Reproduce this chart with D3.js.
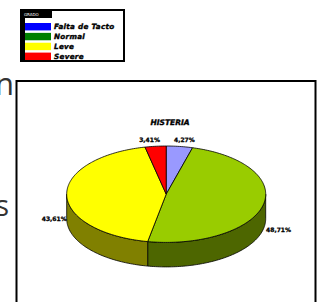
<!DOCTYPE html>
<html>
<head>
<meta charset="utf-8">
<script src="https://cdn.jsdelivr.net/npm/d3@7"></script>
<style>
  body { margin: 0; background: #fff; }
  svg { display: block; }
</style>
</head>
<body>
<div id="chart"></div>
<script>
  // legend entries and pie data (percent)
  var categories = ['Falta de Tacto', 'Normal', 'Leve', 'Severe'];
  var legendColors = ['#0000FF', '#008000', '#FFFF00', '#FF0000'];
  var pieLabels = ['4,27%', '48,71%', '43,61%', '3,41%'];
  var values = [4.27, 48.71, 43.61, 3.41];
  var topColors = ['#9999FF', '#99CC00', '#FFFF00', '#FF0000'];
  var sideColors = ['#5C5C99', '#4D6600', '#808000', '#990000'];
  var title = 'HISTERIA';

  var width = 319, height = 302;

  var svg = d3.select('#chart')
    .append('svg')
    .attr('width', width)
    .attr('height', height);

  // slide text cut off at the left edge (as in the source)
  svg.append('text')
    .attr('x', 14).attr('y', 95)
    .attr('text-anchor', 'end')
    .style('font-family', 'Open Sans')
    .style('font-size', '31px')
    .attr('fill', '#333')
    .text('n');
  svg.append('text')
    .attr('x', 9).attr('y', 216)
    .attr('text-anchor', 'end')
    .style('font-family', 'Open Sans')
    .style('font-size', '29px')
    .attr('fill', '#333')
    .text('s');

  // legend
  var lg = svg.append('g');
  lg.append('rect')
    .attr('x', 21).attr('y', 10)
    .attr('width', 103).attr('height', 51)
    .attr('fill', '#fff')
    .attr('stroke', '#000')
    .attr('stroke-width', 2);
  lg.append('rect')
    .attr('x', 21).attr('y', 10)
    .attr('width', 4).attr('height', 51)
    .attr('fill', '#000');
  lg.append('rect')
    .attr('x', 21).attr('y', 10)
    .attr('width', 31).attr('height', 8)
    .attr('fill', '#000');
  lg.append('text')
    .attr('x', 24).attr('y', 16)
    .style('font-family', 'DejaVu Sans')
    .style('font-size', '4px')
    .attr('fill', '#fff')
    .text('GRADO');

  var rowY = d3.scaleBand()
    .domain(categories)
    .range([23, 60])
    .paddingInner(0.25);

  var rows = lg.selectAll('.row')
    .data(categories)
    .enter().append('g')
    .attr('class', 'row');
  rows.append('rect')
    .attr('x', 25)
    .attr('y', function(d) { return rowY(d); })
    .attr('width', 26)
    .attr('height', rowY.bandwidth())
    .attr('fill', function(d, i) { return legendColors[i]; });
  rows.append('text')
    .attr('x', 54)
    .attr('y', function(d) { return rowY(d) + rowY.bandwidth() / 2 + 2.5; })
    .style('font-family', 'DejaVu Sans')
    .style('font-weight', 'bold')
    .style('font-style', 'italic')
    .style('font-size', '7.2px')
    .style('letter-spacing', '0.3px')
    .attr('fill', '#000')
    .attr('stroke', '#000')
    .attr('stroke-width', 0.35)
    .text(function(d) { return d; });

  // chart frame
  svg.append('rect')
    .attr('x', 16.5).attr('y', 81)
    .attr('width', 299).attr('height', 240)
    .attr('fill', 'none')
    .attr('stroke', '#000')
    .attr('stroke-width', 2);

  svg.append('text')
    .attr('x', 170).attr('y', 125)
    .attr('text-anchor', 'middle')
    .style('font-family', 'DejaVu Sans')
    .style('font-weight', 'bold')
    .style('font-style', 'italic')
    .style('font-size', '7.5px')
    .attr('fill', '#000')
    .attr('stroke', '#000')
    .attr('stroke-width', 0.35)
    .text(title);

  // 3D pie
  var cx = 166.2, cy = 194.2, rx = 99.5, ry = 48.2, depth = 24.5;
  var pie = d3.pie().sort(null).value(function(d) { return d; });
  var arcs = pie(values);

  function pt(a, dy) {
    return [cx + rx * Math.sin(a), cy - ry * Math.cos(a) + (dy || 0)];
  }
  function arcPoints(a0, a1, dy) {
    var n = Math.max(2, Math.ceil((a1 - a0) / 0.02));
    return d3.range(n + 1).map(function(k) {
      return pt(a0 + (a1 - a0) * k / n, dy);
    });
  }
  var line = d3.line();

  var pg = svg.append('g');

  // visible front walls
  arcs.forEach(function(a, i) {
    var a0 = Math.max(a.startAngle, Math.PI / 2);
    var a1 = Math.min(a.endAngle, 3 * Math.PI / 2);
    if (a1 <= a0) return;
    var pts = arcPoints(a0, a1, 0).concat(arcPoints(a0, a1, depth).reverse());
    pg.append('path')
      .attr('d', line(pts) + 'Z')
      .attr('fill', sideColors[i])
      .attr('stroke', '#000')
      .attr('stroke-width', 0.8)
      .attr('stroke-linejoin', 'round');
  });

  // top faces
  arcs.forEach(function(a, i) {
    var pts = [[cx, cy]].concat(arcPoints(a.startAngle, a.endAngle, 0));
    pg.append('path')
      .attr('d', line(pts) + 'Z')
      .attr('fill', topColors[i])
      .attr('stroke', '#000')
      .attr('stroke-width', 0.8)
      .attr('stroke-linejoin', 'round');
  });

  // data labels
  arcs.forEach(function(a, i) {
    var m = (a.startAngle + a.endAngle) / 2;
    var s = Math.sin(m), c = Math.cos(m);
    var x, y;
    if (Math.abs(s) < 0.3) {
      x = cx + s * 58;
      y = cy - (ry + 6) * c + 2;
    } else {
      x = cx + s * (rx + (s < 0 ? 0 : 3));
      y = cy - ry * c + depth + 2;
    }
    pg.append('text')
      .attr('x', x).attr('y', y)
      .attr('text-anchor', s < 0 ? 'end' : 'start')
      .style('font-family', 'DejaVu Sans')
      .style('font-weight', 'bold')
      .style('font-size', '6px')
      .attr('fill', '#000')
      .attr('stroke', '#000')
      .attr('stroke-width', 0.3)
      .text(pieLabels[i]);
  });
</script>
</body>
</html>
